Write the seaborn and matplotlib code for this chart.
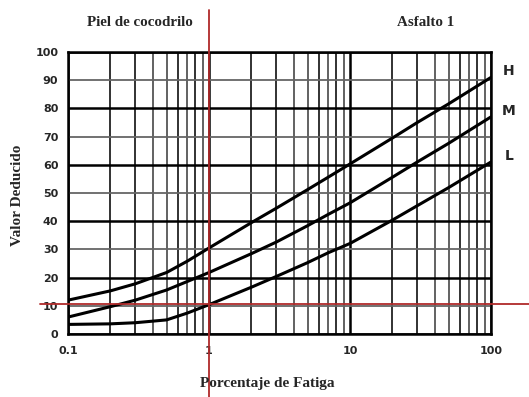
import matplotlib
matplotlib.use("Agg")
import matplotlib.pyplot as plt
import seaborn as sns
import pandas as pd
import numpy as np
from matplotlib.ticker import FixedLocator, NullFormatter

# Data
x_vals = [0.1, 0.2, 0.3, 0.5, 0.7, 1, 2, 3, 5, 7, 10, 20, 30, 50, 100]
y_h = [12, 15.3, 17.8, 21.8, 25.8, 30.5, 39.5, 44.6, 51.2, 55.6, 60.3, 69.5, 75, 81.6, 91]
y_m = [6, 9.7, 12, 15.6, 18.6, 21.8, 28.5, 32.6, 38.4, 42.4, 46.5, 55.6, 61, 67.6, 77]
y_l = [3.4, 3.6, 4.0, 5.0, 7.4, 10.4, 16.6, 20.4, 25.3, 28.8, 32.1, 40.4, 45.5, 51.9, 61]
curve_names = ["H", "M", "L"]
x_ticks = [0.1, 1, 10, 100]
x_tick_labels = ["0.1", "1", "10", "100"]
y_ticks = list(range(0, 101, 10))
ref_x = 1
ref_y = 10.5

df = pd.concat([
    pd.DataFrame({"x": x_vals, "y": y_h, "curve": "H"}),
    pd.DataFrame({"x": x_vals, "y": y_m, "curve": "M"}),
    pd.DataFrame({"x": x_vals, "y": y_l, "curve": "L"}),
])

sns.set_style("white")
plt.rcParams['font.family'] = ['Liberation Serif', 'DejaVu Serif']

fig = plt.figure(figsize=(5.29, 3.97), dpi=100)
ax = fig.add_axes([68/529, 1-334/397, 423/529, 282/397])

ax.set_xscale("log")
ax.set_xlim(0.1, 100)
ax.set_ylim(0, 100)

# grid
minor_x = [m * 10.0**d for d in (-1, 0, 1) for m in range(2, 10)]
for v in minor_x:
    m = round(v / 10**np.floor(np.log10(v) + 1e-9))
    col = "#222222" if m in (2, 3, 6, 8) else "#555555"
    ax.axvline(v, color=col, lw=1.3, zorder=1)
for v in x_ticks:
    ax.axvline(v, color="black", lw=1.8, zorder=1)
for v in y_ticks:
    if v % 20 == 0:
        ax.axhline(v, color="black", lw=1.8, zorder=1)
    else:
        ax.axhline(v, color="#666666", lw=1.3, zorder=1)

sns.lineplot(data=df, x="x", y="y", hue="curve", palette=["black"]*3,
             legend=False, lw=2.2, ax=ax, zorder=3, sort=False)

for name, yy in zip(curve_names, [y_h[-1], y_m[-1], y_l[-1]]):
    ax.text(1.042, yy + 2.2, name, transform=ax.get_yaxis_transform(),
            fontsize=10, fontweight="bold", family="DejaVu Sans",
            ha="center", va="center")

# red reference lines
ax.axvline(ref_x, ymin=-0.223, ymax=1.149, color="#b02a2a", lw=1.3,
           clip_on=False, zorder=4)
ax.axhline(ref_y, xmin=-0.066, xmax=1.09, color="#b02a2a", lw=1.3,
           clip_on=False, zorder=4)

ax.xaxis.set_major_locator(FixedLocator(x_ticks))
ax.set_xticklabels(x_tick_labels)
ax.xaxis.set_minor_locator(FixedLocator(minor_x))
ax.xaxis.set_minor_formatter(NullFormatter())
ax.set_yticks(y_ticks)
ax.tick_params(axis="both", which="both", direction="inout", length=6,
               width=1.2, labelsize=8, pad=4)
for lab in ax.get_xticklabels() + ax.get_yticklabels():
    lab.set_family("DejaVu Sans")
    lab.set_fontweight("bold")
ax.tick_params(axis="x", pad=6)

for s in ax.spines.values():
    s.set_color("black")
    s.set_linewidth(1.8)

ax.set_xlabel("")
ax.set_ylabel("")
fig.text(267/529, 1-383/397, "Porcentaje de Fatiga", ha="center", va="center",
         fontsize=11, fontweight="bold")
fig.text(18/529, 1-195/397, "Valor Deducido", ha="center", va="center",
         fontsize=11, fontweight="bold", rotation=90)
fig.text(140/529, 1-22/397, "Piel de cocodrilo", ha="center", va="center",
         fontsize=10.8, fontweight="bold")
fig.text(426/529, 1-22/397, "Asfalto 1", ha="center", va="center",
         fontsize=10.8, fontweight="bold")

fig.savefig("out.png", dpi=100)
